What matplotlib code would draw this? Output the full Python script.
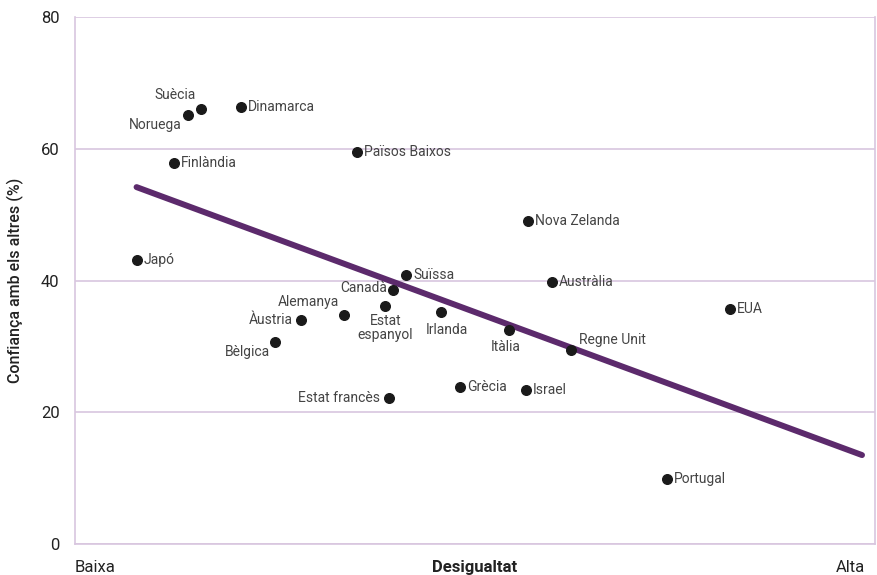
import matplotlib.pyplot as plt

plt.rcParams['font.family'] = ['Roboto', 'DejaVu Sans']

# Data (x = inequality, 0..100 scale; y = trust %)
countries = ['Suècia', 'Noruega', 'Dinamarca', 'Països Baixos', 'Finlàndia',
             'Nova Zelanda', 'Japó', 'Suïssa', 'Austràlia', 'EUA', 'Canadà',
             'Estat\nespanyol', 'Alemanya', 'Àustria', 'Irlanda', 'Itàlia',
             'Regne Unit', 'Bèlgica', 'Grècia', 'Israel', 'Estat francès',
             'Portugal']
inequality = [15.7, 14.1, 20.8, 35.2, 12.4, 56.7, 7.7, 41.4, 59.6, 81.9, 39.8,
              38.8, 33.6, 28.2, 45.8, 54.3, 62.0, 25.0, 48.2, 56.4, 39.3, 74.0]
trust = [66.0, 65.1, 66.3, 59.6, 57.8, 49.0, 43.1, 40.8, 39.8, 35.7, 38.5,
         36.1, 34.7, 34.0, 35.2, 32.5, 29.4, 30.7, 23.8, 23.4, 22.2, 9.9]

# trend line end points
trend_x = [7.7, 98.4]
trend_y = [54.2, 13.5]

# label placement: (dx, dy in pixels, ha, va)
place = {
    'Suècia': (-25, 14, 'center', 'center'),
    'Noruega': (-6, -10, 'right', 'center'),
    'Canadà': (-6, 2, 'right', 'center'),
    'Alemanya': (-5, 13, 'right', 'center'),
    'Àustria': (-8, 0, 'right', 'center'),
    'Bèlgica': (-5, -10, 'right', 'center'),
    'Estat\nespanyol': (0, -8, 'center', 'top'),
    'Irlanda': (6, -18, 'center', 'center'),
    'Itàlia': (-4, -17, 'center', 'center'),
    'Regne Unit': (8, 10, 'left', 'center'),
    'Estat francès': (-9, 0, 'right', 'center'),
}

grid_col = '#d8c6df'
fig = plt.figure(figsize=(8.77, 5.75), dpi=100)
ax = fig.add_axes([0.0855, 0.054, 0.912, 0.916])

ax.plot(trend_x, trend_y, color='#5c2a6c', linewidth=4.3, solid_capstyle='round', zorder=2)
ax.scatter(inequality, trust, s=48, color='#1a1a1a', zorder=3)

for name, x, y in zip(countries, inequality, trust):
    dx, dy, ha, va = place.get(name, (7, 0, 'left', 'center'))
    ax.annotate(name, (x, y), xytext=(dx, dy), textcoords='offset pixels',
                ha=ha, va=va, fontsize=10, color='#444444', linespacing=1.0)

ax.set_xlim(0, 100)
ax.set_ylim(0, 80)
ax.set_yticks([0, 20, 40, 60, 80])
ax.set_xticks([])
ax.grid(axis='y', color=grid_col, linewidth=1.2)
ax.set_axisbelow(True)
for s in ['left', 'right', 'bottom', 'top']:
    ax.spines[s].set_color(grid_col)
    ax.spines[s].set_linewidth(1.2)
ax.spines['top'].set_visible(False)
ax.tick_params(axis='y', length=0, labelsize=12, labelcolor='#222222', pad=11)

ax.set_ylabel('Confiança amb els altres (%)', fontsize=11.5, fontweight='medium',
              color='#222222', labelpad=12)

ax.text(0, -0.045, 'Baixa', transform=ax.transAxes, ha='left', va='center',
        fontsize=12, color='#222222')
ax.text(0.5, -0.045, 'Desigualtat', transform=ax.transAxes, ha='center', va='center',
        fontsize=12, fontweight='bold', color='#222222')
ax.text(0.969, -0.045, 'Alta', transform=ax.transAxes, ha='center', va='center',
        fontsize=12, color='#222222')

fig.savefig('out.png', dpi=100)
